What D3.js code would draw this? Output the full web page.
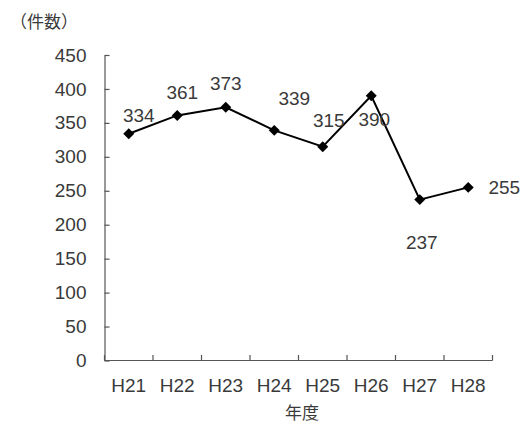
<!DOCTYPE html>
<html><head><meta charset="utf-8">
<script src="https://cdn.jsdelivr.net/npm/d3@7"></script>
<style>body{margin:0;background:#fff}</style>
</head><body>
<svg id="c" width="528" height="426"></svg>
<script>
const categories = ["H21","H22","H23","H24","H25","H26","H27","H28"];
const values = [334,361,373,339,315,390,237,255];
const yTicks = [0,50,100,150,200,250,300,350,400,450];
const labelOffsets = [[10,-18],[5,-23],[0,-24],[20,-32],[6,-26],[3,24],[2,43],[36,0]];

const svg = d3.select("#c");
const font = "'Liberation Sans', Arial, sans-serif";
const textCol = "#3a3a3a", axisCol = "#555";
const x = d3.scaleBand().domain(categories).range([104.5, 492.5]);
const y = d3.scaleLinear().domain([0,450]).range([360.5, 55]);

// axes
const yAxis = svg.append("g").attr("transform","translate(104.5,0)")
  .call(d3.axisLeft(y).tickValues(yTicks).tickSize(-5).tickPadding(18).tickSizeOuter(0));
const xAxis = svg.append("g").attr("transform","translate(0,360.5)")
  .call(d3.axisBottom(x).tickSize(0).tickPadding(18));
xAxis.selectAll(".tick line").remove();
svg.append("g").selectAll("line").data(x.domain().map(d=>x(d)).concat([x.range()[1]]))
  .join("line").attr("x1",d=>d).attr("x2",d=>d).attr("y1",360.5).attr("y2",355)
  .attr("stroke",axisCol).attr("stroke-width",1.2);
[yAxis,xAxis].forEach(g=>{
  g.selectAll(".domain,.tick line").attr("stroke",axisCol).attr("stroke-width",1.2);
  g.selectAll("text").attr("fill",textCol).style("font-family",font).style("font-size","19px");
});
xAxis.select(".domain").attr("d",`M${x.range()[0]},0H${x.range()[1]}`);

// line
const line = d3.line().x((d,i)=>x(categories[i])+x.bandwidth()/2).y(d=>y(d));
svg.append("path").datum(values).attr("d",line).attr("fill","none")
  .attr("stroke","#000").attr("stroke-width",2);
svg.selectAll(".m").data(values).join("path").attr("class","m")
  .attr("transform",(d,i)=>`translate(${x(categories[i])+x.bandwidth()/2},${y(d)}) rotate(45)`)
  .attr("d",d3.symbol().type(d3.symbolSquare).size(60)).attr("fill","#000");
svg.selectAll(".lb").data(values).join("text").attr("class","lb")
  .attr("x",(d,i)=>x(categories[i])+x.bandwidth()/2+labelOffsets[i][0])
  .attr("y",(d,i)=>y(d)+labelOffsets[i][1]).attr("dy","0.35em")
  .attr("text-anchor","middle").attr("fill",textCol)
  .style("font-family",font).style("font-size","19px").text(d=>d);

svg.append("text").attr("x",10).attr("y",28).attr("fill",textCol)
  .style("font-family","'Noto Sans CJK JP', sans-serif").style("font-size","17px").text("（件数）");
svg.append("text").attr("x",302).attr("y",419).attr("text-anchor","middle").attr("fill",textCol)
  .style("font-family","'Noto Sans CJK JP', sans-serif").style("font-size","17px").text("年度");
</script>
</body></html>
